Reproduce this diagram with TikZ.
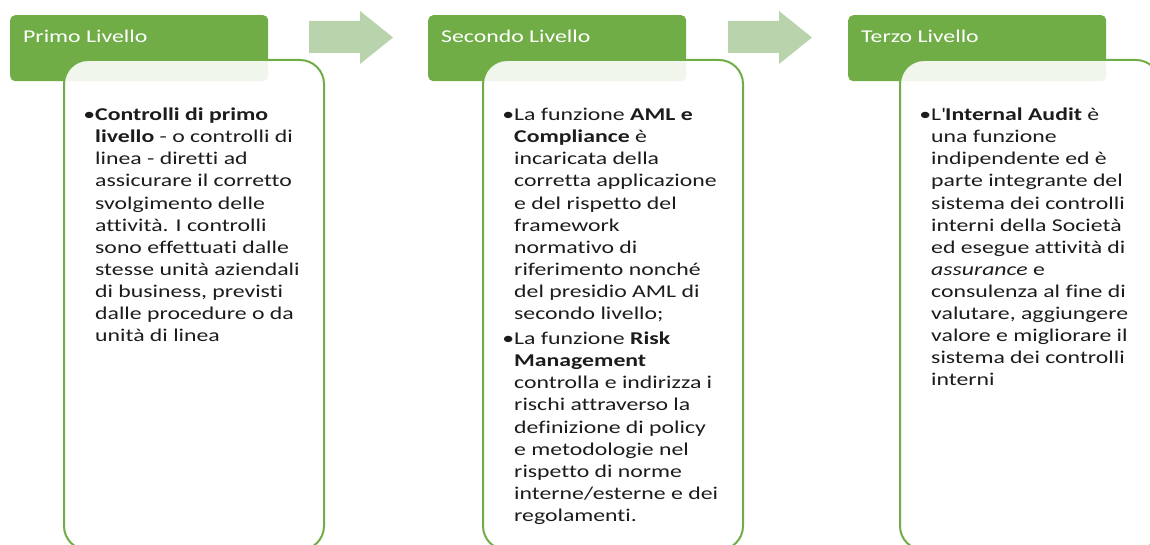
\documentclass[tikz,border=0pt]{standalone}
\usepackage{fontspec}
\setmainfont{Carlito}[FakeStretch=1.32, Ligatures={NoCommon}]
\definecolor{lvlgreen}{RGB}{112,173,71}
\definecolor{flowgreen}{RGB}{185,212,172}
\definecolor{inktext}{RGB}{28,28,28}
\newcommand{\itemdot}{\llap{\textbullet}}
\begin{document}
\begin{tikzpicture}[x=1pt,y=-1pt,
        header/.style={fill=lvlgreen, rounded corners=5pt, minimum width=258pt,
          minimum height=66pt, anchor=north west, inner sep=0pt},
        headertext/.style={anchor=base west, inner sep=0pt, text=white,
          font=\fontsize{18}{22.1}\selectfont},
        body/.style={draw=lvlgreen, line width=2pt, fill=white, fill opacity=0.9,
          rounded corners=24pt, minimum width=260pt, minimum height=490pt,
          anchor=north west, inner sep=0pt},
        bodytext/.style={anchor=north west, inner sep=0pt, align=left, text=inktext,
          font=\fontsize{18}{22.1}\selectfont},
        flow/.style={fill=flowgreen}]
        \useasboundingbox (0,0) rectangle (1150,545);
        \clip (0,0) rectangle (1150,545);
        \node[header] (hdrA) at (10,15) {};
        \node[header] (hdrB) at (428,15) {};
        \node[header] (hdrC) at (848,15) {};
        \node[headertext] (lblA) at (23,43) {Primo Livello};
        \node[headertext] (lblB) at (441,43) {Secondo Livello};
        \node[headertext] (lblC) at (861,43) {Terzo Livello};
        \node[body] (boxA) at (63,59) {};
        \node[body] (boxB) at (482,59) {};
        \node[body] (boxC) at (899,59) {};
        \fill[flow] (309,21) -- (360,21) -- (360,11) -- (393,37.5) -- (360,64)
          -- (360,53) -- (309,53) -- cycle;
        \fill[flow] (728,21) -- (779,21) -- (779,11) -- (812,37.5) -- (779,64)
          -- (779,53) -- (728,53) -- cycle;
        \node[bodytext] (txtA) at (95,105) {\strut\itemdot\textbf{Controlli di primo}\\
          \textbf{livello} - o controlli di\\
          linea - diretti ad\\
          assicurare il corretto\\
          svolgimento delle\\
          attività. I controlli\\
          sono effettuati dalle\\
          stesse unità aziendali\\
          di business, previsti\\
          dalle procedure o da\\
          unità di linea};
        \node[bodytext] (txtB) at (514,105) {\strut\itemdot La funzione \textbf{AML e}\\
          \textbf{Compliance} è\\
          incaricata della\\
          corretta applicazione\\
          e del rispetto del\\
          framework\\
          normativo di\\
          riferimento nonché\\
          del presidio AML di\\
          secondo livello;\\[3pt]
          \itemdot La funzione \textbf{Risk}\\
          \textbf{Management}\\
          controlla e indirizza i\\
          rischi attraverso la\\
          definizione di policy\\
          e metodologie nel\\
          rispetto di norme\\
          interne/esterne e dei\\
          regolamenti.};
        \node[bodytext] (txtC) at (931,105) {\strut\itemdot L\textquotesingle\textbf{Internal Audit} è\\
          una funzione\\
          indipendente ed è\\
          parte integrante del\\
          sistema dei controlli\\
          interni della Società\\
          ed esegue attività di\\
          \textit{assurance} e\\
          consulenza al fine di\\
          valutare, aggiungere\\
          valore e migliorare il\\
          sistema dei controlli\\
          interni};
    \end{tikzpicture}
\end{document}
